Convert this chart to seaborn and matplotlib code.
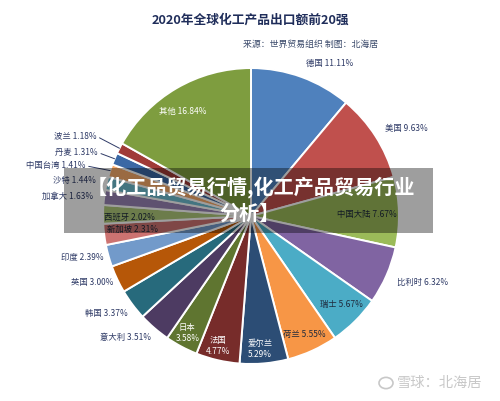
import numpy as np
import matplotlib
matplotlib.use("Agg")
import matplotlib.pyplot as plt
import seaborn as sns
from matplotlib.patches import Rectangle, Circle

sns.set_theme(style="white")
plt.rcParams["font.family"] = ["Noto Sans CJK SC", "DejaVu Sans"]

countries = ["德国", "美国", "中国大陆", "比利时", "瑞士", "荷兰", "爱尔兰", "法国", "日本", "意大利",
             "韩国", "英国", "印度", "新加坡", "西班牙", "加拿大", "沙特", "中国台湾", "丹麦", "波兰", "其他"]
shares = [11.11, 9.63, 7.67, 6.32, 5.67, 5.55, 5.29, 4.77, 3.58, 3.51,
          3.37, 3.00, 2.39, 2.31, 2.02, 1.63, 1.44, 1.41, 1.31, 1.18, 16.84]
colors = ["#4F81BD", "#C0504D", "#9BBB59", "#8064A2", "#4BACC6", "#F79646", "#2C4D75", "#772C2A",
          "#5F7530", "#4D3B62", "#276A7C", "#B65708", "#729ACA", "#CD7371", "#AFC97A", "#9983B5",
          "#6FBDD1", "#F9AB6B", "#3B68A5", "#A03B38", "#7E9D3F"]

# label placement (pie radius = 1), colour and line-break per slice
label_xy = [(0.53, 1.03), (1.05, 0.59), (0.78, 0.01), (1.16, -0.45), (0.61, -0.60), (0.36, -0.80),
            (0.06, -0.90), (-0.22, -0.88), (-0.43, -0.79), (-0.85, -0.82), (-0.98, -0.66),
            (-1.07, -0.45), (-1.14, -0.28), (-0.80, -0.09), (-0.82, -0.01), (-1.24, 0.13),
            (-1.19, 0.24), (-1.32, 0.34), (-1.18, 0.43), (-1.19, 0.54), (-0.46, 0.71)]
navy = "#2E3A66"
dark = "#1F2A3C"
label_colors = [navy, navy, dark, navy, dark, dark, "white", "white", "white", navy,
                navy, navy, navy, dark, dark, navy, navy, navy, navy, navy, "white"]
two_line = {"爱尔兰", "法国", "日本"}
leader = {"中国台湾", "丹麦", "波兰"}

fig = plt.figure(figsize=(5, 4.01), dpi=100)
fig.patch.set_facecolor("white")
ax = fig.add_axes([0.206, 0.0923, 0.592, 0.738])

wedges, _ = ax.pie(shares, colors=colors, startangle=90, counterclock=False,
                   wedgeprops=dict(edgecolor="white", linewidth=1.4))
ax.set_xlim(-1, 1)
ax.set_ylim(-1, 1)
ax.axis("off")

for w, c, s, xy, lc in zip(wedges, countries, shares, label_xy, label_colors):
    txt = f"{c}\n{s:.2f}%" if c in two_line else f"{c} {s:.2f}%"
    if c in leader:
        mid = np.deg2rad((w.theta1 + w.theta2) / 2)
        ax.annotate(txt, xy=(np.cos(mid), np.sin(mid)), xytext=xy, ha="center", va="center",
                    fontsize=6, color=lc,
                    arrowprops=dict(arrowstyle="-", color=navy, lw=0.7,
                                    shrinkA=0, shrinkB=0, relpos=(1, 0.5)))
    else:
        ax.text(xy[0], xy[1], txt, ha="center", va="center", fontsize=6, color=lc,
                linespacing=1.3)

fig.text(0.5, 0.95, "2020年全球化工产品出口额前20强", ha="center", va="center",
         fontsize=9.2, fontweight="bold", color="#1F2D5A")
fig.text(0.756, 0.89, "来源：世界贸易组织 制图：北海居", ha="right", va="center",
         fontsize=6.4, color="#3B4A6B")

# grey title banner laid over the chart
fig.patches.append(Rectangle((64 / 500, 1 - 233 / 401), 369 / 500, 65 / 401,
                             transform=fig.transFigure, facecolor="black", alpha=0.38,
                             edgecolor="none", zorder=5))
fig.text(0.502, 1 - 187 / 401, "【化工品贸易行情,化工产品贸易行业", ha="center", va="center",
         fontsize=14.5, fontweight="bold", color="white", zorder=6)
fig.text(0.50, 1 - 213 / 401, "分析】", ha="center", va="center",
         fontsize=14.5, fontweight="bold", color="white", zorder=6)

# watermark
fig.patches.append(Circle((386 / 500, 1 - 383 / 401), 7 / 500, transform=fig.transFigure,
                          facecolor="none", edgecolor="#C8C8C8", linewidth=1.2))
fig.text(397 / 500, 1 - 383 / 401, "雪球：北海居", ha="left", va="center",
         fontsize=10.3, color="#C8C8C8")

fig.savefig("out.png", dpi=100)
